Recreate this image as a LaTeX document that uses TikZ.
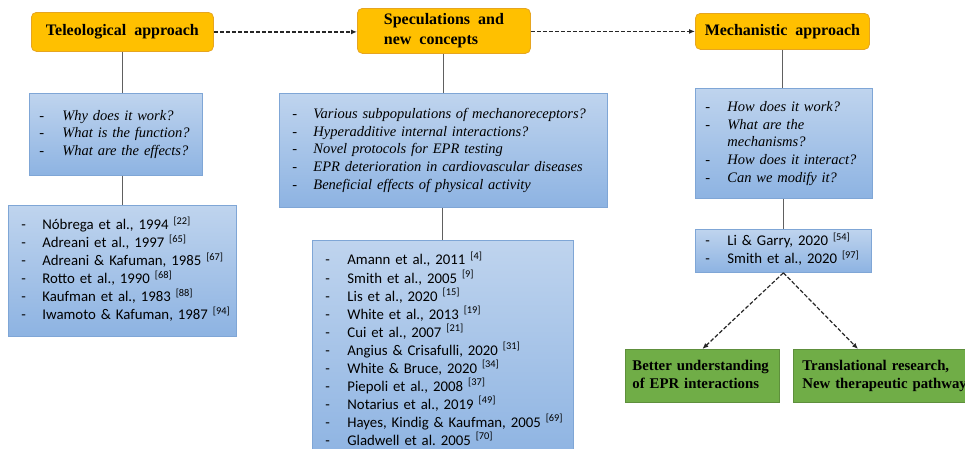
\documentclass[tikz,border=0pt]{standalone}
\usepackage{fontspec}
\setmainfont{Liberation Serif}
\newfontfamily\calfont{Carlito}
\usetikzlibrary{arrows.meta}
\definecolor{ttlfill}{HTML}{FFC000}
\definecolor{ttldraw}{HTML}{E6A520}
\definecolor{bxtop}{HTML}{BFD4EE}
\definecolor{bxbot}{HTML}{8DB3E2}
\definecolor{bxdraw}{HTML}{7FA6D6}
\definecolor{grfill}{HTML}{70AD47}
\definecolor{grdraw}{HTML}{5E8F3C}
\definecolor{connc}{HTML}{606060}
\begin{document}
\frenchspacing
\begin{tikzpicture}[x=1pt,y=-1pt,
  ttl/.style={draw=ttldraw, fill=ttlfill, rounded corners=5pt, line width=0.8pt,
    anchor=north west, font=\bfseries\fontsize{16}{20}\selectfont, align=left, inner sep=0pt},
  bx/.style={draw=bxdraw, top color=bxtop, bottom color=bxbot, line width=0.8pt,
    anchor=north west, inner ysep=0pt, align=left},
  qtext/.style={font=\itshape\fontsize{14.5}{17.7}\selectfont},
  rtext/.style={font=\calfont\fontsize{14.8}{17.7}\selectfont},
  grbox/.style={draw=grdraw, fill=grfill, line width=0.8pt, anchor=north west,
    font=\bfseries\fontsize{14.8}{17.5}\selectfont, align=left, inner ysep=0pt},
  conn/.style={draw=connc, line width=1pt},
  darr/.style={draw=black!85, line width=1.2pt, dash pattern=on 4pt off 2pt,
    -{Latex[length=6pt,width=5pt]}}
]
\useasboundingbox (0,0) rectangle (965,448);
\clip (0,0) rectangle (965,448);

% titles
\node[ttl, minimum width=182pt, minimum height=39pt] (tele) at (31,12) {Teleological\enspace approach};
\node[ttl, minimum width=173pt, minimum height=45pt] (spec) at (357,8) {Speculations\enspace and\\new\enspace concepts};
\node[ttl, minimum width=174pt, minimum height=36pt] (mech) at (695,13) {Mechanistic\enspace approach};

% question boxes
\node[bx, qtext, minimum height=82pt, inner xsep=10pt, text width=153pt] (teleq) at (29,93)
 {\begin{tabular}{@{}p{23pt}@{}l@{}}
  \upshape - & Why does it work?\\
  \upshape - & What is the function?\\
  \upshape - & What are the effects?
 \end{tabular}};
\node[bx, qtext, minimum height=114pt, inner xsep=13pt, text width=302pt] (specq) at (279,93)
 {\begin{tabular}{@{}p{21pt}@{}l@{}}
  \upshape - & Various subpopulations of mechanoreceptors?\\
  \upshape - & Hyperadditive internal interactions?\\
  \upshape - & Novel protocols for EPR testing\\
  \upshape - & EPR deterioration in cardiovascular diseases\\
  \upshape - & Beneficial effects of physical activity
 \end{tabular}};
\node[bx, qtext, minimum height=110pt, inner xsep=10pt, text width=157pt] (mechq) at (695,88)
 {\begin{tabular}{@{}p{22pt}@{}l@{}}
  \upshape - & How does it work?\\
  \upshape - & What are the\\
            & mechanisms?\\
  \upshape - & How does it interact?\\
  \upshape - & Can we modify it?
 \end{tabular}};

% reference boxes
\node[bx, rtext, minimum height=131pt, inner xsep=13pt, text width=202pt] (refa) at (8,205)
 {\begin{tabular}{@{}p{21pt}@{}l@{}}
  - & Nóbrega et al., 1994 \textsuperscript{[22]}\\
  - & Adreani et al., 1997 \textsuperscript{[65]}\\
  - & Adreani \& Kafuman, 1985 \textsuperscript{[67]}\\
  - & Rotto et al., 1990 \textsuperscript{[68]}\\
  - & Kaufman et al., 1983 \textsuperscript{[88]}\\
  - & Iwamoto \& Kafuman, 1987 \textsuperscript{[94]}
 \end{tabular}};
\node[bx, rtext, minimum height=222pt, inner xsep=13pt, text width=235pt] (refb) at (312,240)
 {\begin{tabular}{@{}p{22pt}@{}l@{}}
  - & Amann et al., 2011 \textsuperscript{[4]}\\
  - & Smith et al., 2005 \textsuperscript{[9]}\\
  - & Lis et al., 2020 \textsuperscript{[15]}\\
  - & White et al., 2013 \textsuperscript{[19]}\\
  - & Cui et al., 2007 \textsuperscript{[21]}\\
  - & Angius \& Crisafulli, 2020 \textsuperscript{[31]}\\
  - & White \& Bruce, 2020 \textsuperscript{[34]}\\
  - & Piepoli et al., 2008 \textsuperscript{[37]}\\
  - & Notarius et al., 2019 \textsuperscript{[49]}\\
  - & Hayes, Kindig \& Kaufman, 2005 \textsuperscript{[69]}\\
  - & Gladwell et al. 2005 \textsuperscript{[70]}
 \end{tabular}};
\node[bx, rtext, minimum height=43pt, inner xsep=10pt, text width=156pt] (refc) at (695,229)
 {\begin{tabular}{@{}p{22pt}@{}l@{}}
  - & Li \& Garry, 2020 \textsuperscript{[54]}\\
  - & Smith et al., 2020 \textsuperscript{[97]}
 \end{tabular}};

% outcome boxes
\node[grbox, minimum height=53pt, inner xsep=7pt, text width=140pt] (gra) at (625,349)
 {\begin{tabular}{@{}l@{}}Better understanding\\of EPR interactions\end{tabular}};
\node[grbox, minimum height=53pt, inner xsep=9pt, text width=174pt] (grb) at (793,349)
 {\begin{tabular}{@{}l@{}}Translational research,\\New therapeutic pathways\end{tabular}};
\coordinate (grbtop) at (858,349);

% connectors
\draw[conn] (tele.south) -- (tele.south |- teleq.north);
\draw[conn] (refa.north |- teleq.south) -- (refa.north);
\draw[conn] (spec.south) -- (spec.south |- specq.north);
\draw[conn] (refb.north |- specq.south) -- (refb.north);
\draw[conn] (mech.south) -- (mech.south |- mechq.north);
\draw[conn] (refc.north |- mechq.south) -- (refc.north);

\draw[darr] (tele.east) -- (tele.east -| spec.west);
\draw[darr] (spec.east |- mech.west) -- (mech.west);
\draw[darr] (refc.south) -- (gra.north);
\draw[darr] (refc.south) -- (grbtop);
\end{tikzpicture}
\end{document}
